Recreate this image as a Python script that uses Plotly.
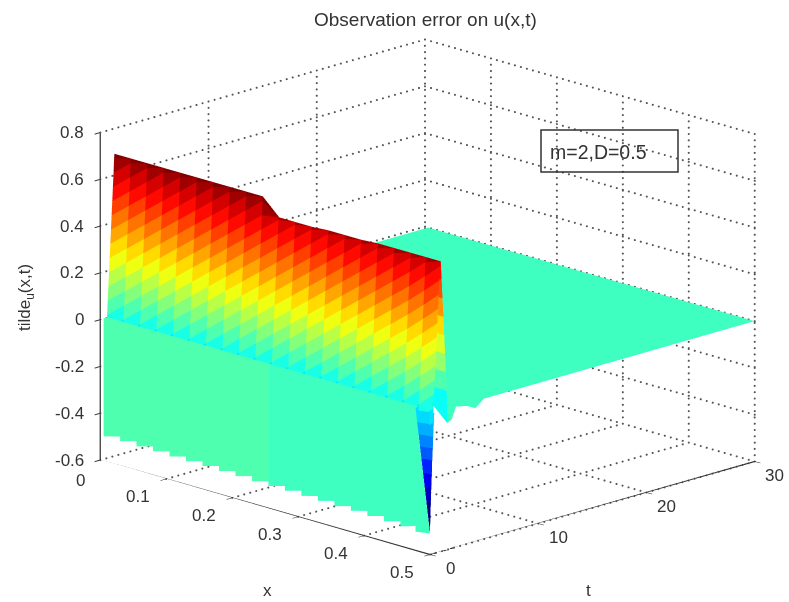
import plotly.graph_objects as go

# ---------- data ----------
x_grid = [0.005,0.03,0.055,0.08,0.105,0.13,0.155,0.18,0.205,0.23,0.255,0.28,0.305,0.33,0.355,0.38,0.405,0.43,0.455,0.478,0.5]
peak_z = [0.70,0.70,0.70,0.70,0.70,0.70,0.70,0.70,0.70,0.70,0.63,0.63,0.63,0.635,0.635,0.635,0.64,0.64,0.64,0.64,0.64]
wall_levels = [-0.10,-0.04,0.02,0.08,0.14,0.20,0.26,0.32,0.38,0.44,0.50,0.56,0.62,0.68,0.74]
wall_t = [0.20,0.26,0.32,0.38,0.44,0.50,0.56,0.62,0.68,0.74,0.80,0.86,0.92,0.97,1.00]
descent_levels = [0.56,0.48,0.40,0.32,0.24,0.16,0.08,0.0]
descent_t = [1.08,1.16,1.24,1.32,1.40,1.47,1.54,1.60]
flat_t = [1.6,2.0,2.4,3.4,4.2,5.0,30.0]
ripple_z = [-0.06,-0.05,0.0,-0.01,-0.03,0.0,0.0]
front_bottom_left = [-0.495,-0.495,-0.497,-0.498,-0.50,-0.50,-0.50,-0.502,-0.503,-0.505,-0.505,-0.505,-0.507,-0.508,-0.51,-0.51,-0.512,-0.514,-0.516,-0.52]
front_bottom_right = [-0.475,-0.475,-0.477,-0.478,-0.48,-0.48,-0.48,-0.482,-0.483,-0.485,-0.485,-0.485,-0.487,-0.488,-0.49,-0.49,-0.492,-0.494,-0.496,-0.51]
front_top = 0.01
front_colour_left = 0.08
front_colour_right = 0.062
flat_colour = 0.062
sliver_z = [-0.51,-0.44,-0.38,-0.32,-0.26,-0.20,-0.15,-0.10,-0.05,0.0]
sliver_t = [0.0,0.04,0.08,0.12,0.17,0.21,0.26,0.30,0.35,0.40]

x_ticks = [0,0.1,0.2,0.3,0.4,0.5]
x_labels = ["0","0.1","0.2","0.3","0.4","0.5"]
t_ticks = [0,10,20,30]
t_labels = ["0","10","20","30"]
z_ticks = [-0.6,-0.4,-0.2,0,0.2,0.4,0.6,0.8]
z_labels = ["-0.6","-0.4","-0.2","0","0.2","0.4","0.6","0.8"]
x_range = [0,0.5]
t_range = [0,30]
z_range = [-0.6,0.8]

jet = [[0,'#000080'],[0.125,'#0000ff'],[0.375,'#00ffff'],[0.625,'#ffff00'],[0.875,'#ff0000'],[1,'#800000']]

# ---------- mesh assembly ----------
vx, vy, vz, fi, fj, fk, fc = [], [], [], [], [], [], []
def tri(a, b, c, col):
    n = len(vx)
    for p in (a, b, c):
        vx.append(p[0]); vy.append(p[1]); vz.append(p[2])
    fi.append(n); fj.append(n+1); fk.append(n+2); fc.append(col)
def quad(a, b, c, d, col):
    tri(a, b, c, col); tri(a, c, d, col)

nx = len(x_grid)
L = len(wall_levels)
def wall_pt(j, k):
    k = min(max(k, 0), L-1)
    z = wall_levels[k]
    if z >= peak_z[j]:
        return (x_grid[j], 1.0, peak_z[j])
    return (x_grid[j], wall_t[k], z)

for j in range(nx-1):
    for k in range(-1, L-1):
        quad(wall_pt(j, k), wall_pt(j+1, k+1), wall_pt(j+1, k+2), wall_pt(j, k+1), wall_levels[k+1])
    prev_a = (x_grid[j], 1.0, peak_z[j]); prev_b = (x_grid[j+1], 1.0, peak_z[j+1])
    for m, (lv, tv) in enumerate(zip(descent_levels, descent_t)):
        zb = ripple_z[0] if (j == nx-2 and m == len(descent_levels)-1) else lv
        a = (x_grid[j], tv, lv); b = (x_grid[j+1], tv, zb)
        quad(prev_a, prev_b, b, a, lv)
        prev_a, prev_b = a, b
    for m in range(len(flat_t)-1):
        z0 = ripple_z[m] if j == nx-2 else 0.0
        z1 = ripple_z[m+1] if j == nx-2 else 0.0
        quad((x_grid[j], flat_t[m], 0.0), (x_grid[j+1], flat_t[m], z0),
             (x_grid[j+1], flat_t[m+1], z1), (x_grid[j], flat_t[m+1], 0.0), flat_colour)

for j in range(nx-1):
    col = front_colour_left if j < 10 else front_colour_right
    if j < nx-2:
        quad((x_grid[j], 0, front_top), (x_grid[j], 0, front_bottom_left[j]),
             (x_grid[j+1], 0, front_bottom_right[j]), (x_grid[j+1], 0, front_top), col)
        quad((x_grid[j], 0, front_top), (x_grid[j+1], 0, front_top),
             (x_grid[j+1], 0.33, front_top), (x_grid[j], 0.33, front_top), col)
    else:
        quad((x_grid[j], 0, front_top), (x_grid[j], 0, front_bottom_left[j]),
             (x_grid[j+1], 0, sliver_z[0]), (x_grid[j+1], 0, sliver_z[0]), col)

# blue sliver in the last column: rows stacked between the green edge and x = 0.5
def sliver_left(m):
    f = (sliver_z[m]-sliver_z[0])/(front_top-sliver_z[0])
    return (x_grid[-1]+(x_grid[-2]-x_grid[-1])*f, 0, sliver_z[m])
for m in range(len(sliver_z)-1):
    quad(sliver_left(m), (x_grid[-1], sliver_t[m], sliver_z[m]),
         (x_grid[-1], sliver_t[m+1], sliver_z[m+1]), sliver_left(m+1), sliver_z[m])

fig = go.Figure()
fig.add_trace(go.Mesh3d(x=vx, y=vy, z=vz, i=fi, j=fj, k=fk, intensity=fc, intensitymode='cell',
                        colorscale=jet, cmin=-0.45, cmax=0.72, showscale=False, flatshading=True,
                        lighting=dict(ambient=1, diffuse=0, specular=0, fresnel=0, roughness=1),
                        hoverinfo='skip'))

gx, gy, gz = [], [], []
def dots(a, b, n):
    for s in range(n+1):
        f = s/n
        gx.append(a[0]+(b[0]-a[0])*f); gy.append(a[1]+(b[1]-a[1])*f); gz.append(a[2]+(b[2]-a[2])*f)
x0, x1 = x_range; t0, t1 = t_range; z0, z1 = z_range
NX, NT, NZ = 55, 54, 52
for xv in x_ticks[1:]:
    dots((xv, t0, z0), (xv, t1, z0), NT)
for xv in x_ticks:
    dots((xv, t1, z0), (xv, t1, z1), NZ)
for tv in t_ticks[1:]:
    dots((x0, tv, z0), (x1, tv, z0), NX)
for tv in t_ticks[1:]:
    dots((x0, tv, z0), (x0, tv, z1), NZ)
for zv in z_ticks:
    dots((x0, t0, zv), (x0, t1, zv), NT)
    dots((x0, t1, zv), (x1, t1, zv), NX)
fig.add_trace(go.Scatter3d(x=gx, y=gy, z=gz, mode='markers',
                           marker=dict(color='#555555', size=1.2, line=dict(width=0)),
                           hoverinfo='skip', showlegend=False))

# solid axis lines
fig.add_trace(go.Scatter3d(x=[x0, x0, x1, x1], y=[t0, t0, t0, t1], z=[z1, z0, z0, z0], mode='lines',
                           line=dict(color='#333333', width=2.5), hoverinfo='skip', showlegend=False))

axis = dict(showbackground=False, showgrid=False, zeroline=False, showspikes=False, showline=False,
            showticklabels=False, ticks='outside', ticklen=8, tickcolor='#333333', tickwidth=2, title=dict(text=''))

tick_font = dict(family='Liberation Sans', size=17, color='#333333')
scene_labels = []
for v, s in zip(z_ticks, z_labels):
    scene_labels.append(dict(x=x0, y=t0, z=v, text=s, showarrow=False, xanchor='right', yanchor='middle',
                             xshift=-14, yshift=0, font=tick_font))
for v, s in zip(x_ticks, x_labels):
    scene_labels.append(dict(x=v, y=t0, z=z0, text=s, showarrow=False, xanchor='center', yanchor='middle',
                             xshift=-20 if v == 0 else -28, yshift=-20 if v == 0 else -18, font=tick_font))
for v, s in zip(t_ticks, t_labels):
    scene_labels.append(dict(x=x1, y=v, z=z0, text=s, showarrow=False, xanchor='center', yanchor='middle',
                             xshift=20, yshift=-14, font=tick_font))

W, H = 789, 602
def ann(text, px, py, size, angle=0, xanchor='center', **kw):
    return dict(text=text, x=px/W, y=1-py/H, xref='paper', yref='paper', showarrow=False,
                xanchor=xanchor, yanchor='middle',
                font=dict(family='Liberation Sans', size=size, color='#333333'), textangle=angle, **kw)

fig.update_layout(
    width=W, height=H, margin=dict(l=0, r=0, t=0, b=0), paper_bgcolor='white', showlegend=False,
    scene=dict(
        domain=dict(x=[66/W, 1], y=[8/H, 1]),
        xaxis=dict(axis, range=x_range, tickvals=x_ticks, ticktext=x_labels),
        yaxis=dict(axis, range=t_range, tickvals=t_ticks, ticktext=t_labels),
        zaxis=dict(axis, range=z_range, tickvals=z_ticks, ticktext=z_labels),
        aspectmode='manual', aspectratio=dict(x=1.570, y=1.546, z=1.151),
        camera=dict(projection=dict(type='orthographic'), eye=dict(x=1.3, y=-1.3, z=0.55),
                    center=dict(x=0, y=0, z=0), up=dict(x=0, y=0, z=1)),
        annotations=scene_labels,
    ),
    annotations=[
        ann("Observation error on u(x,t)", 426, 20, 19),
        ann("x", 267, 590, 17),
        ann("t", 588, 590, 17),
        ann("tilde<sub>u</sub>(x,t)", 26, 298, 17, angle=-90),
        ann("m=2,D=0.5", 548, 152, 19.5, xanchor='left'),
    ],
    shapes=[dict(type='rect', xref='paper', yref='paper', x0=541/W, x1=678/W, y0=1-172/H, y1=1-130/H,
                 line=dict(color='#333333', width=1.5))],
)
fig.write_html("out.html", config=dict(displayModeBar=False),
               post_script="document.body.style.margin='0';document.body.style.overflow='hidden';")
